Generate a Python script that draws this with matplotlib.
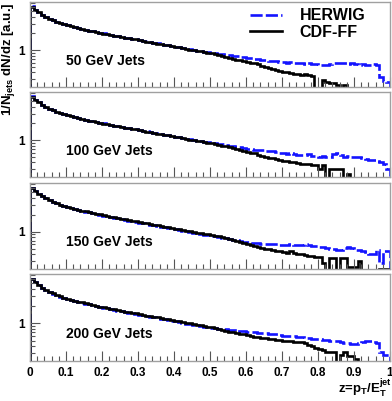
import numpy as np
import matplotlib
matplotlib.use("Agg")
import matplotlib.pyplot as plt
from matplotlib.ticker import FixedLocator, FixedFormatter, MultipleLocator, LogLocator, NullFormatter

plt.rcParams['font.family'] = ['Liberation Sans', 'DejaVu Sans']
plt.rcParams['font.weight'] = 'bold'
plt.rcParams['mathtext.fontset'] = 'custom'
plt.rcParams['mathtext.rm'] = 'Liberation Sans:bold'
plt.rcParams['mathtext.bf'] = 'Liberation Sans:bold'
plt.rcParams['mathtext.default'] = 'bf'

# jet energies shown in the four panels
jet_energies = [50, 100, 150, 200]
series_names = ["HERWIG", "CDF-FF"]

# z bins, 0.01 wide
z_edges = np.linspace(0.0, 1.0, 101)

herwig_50 = [6.1, 5.35, 4.75, 4.3, 3.95, 3.66, 3.42, 3.23, 3.05, 2.91,
             2.78, 2.68, 2.58, 2.49, 2.4, 2.33, 2.25, 2.18, 2.12, 2.05,
             2.0, 1.94, 1.88, 1.83, 1.78, 1.74, 1.69, 1.65, 1.6, 1.56,
             1.52, 1.48, 1.44, 1.4, 1.36, 1.33, 1.29, 1.26, 1.23, 1.2,
             1.16, 1.13, 1.1, 1.07, 1.04, 1.01, 0.98, 0.96, 0.94, 0.92,
             0.9, 0.88, 0.86, 0.85, 0.83, 0.81, 0.8, 0.78, 0.77, 0.75,
             0.74, 0.72, 0.71, 0.69, 0.68, 0.66, 0.65, 0.64, 0.63, 0.62,
             0.61, 0.6, 0.62, 0.6, 0.59, 0.58, 0.57, 0.58, 0.57, 0.56,
             0.55, 0.54, 0.55, 0.57, 0.59, 0.58, 0.6, 0.58, 0.57, 0.58,
             0.56, 0.55, 0.56, 0.55, 0.54, 0.56, 0.55, 0.33, 0.28, 0.27]
cdf_50 = [6.0, 5.3, 4.75, 4.3, 3.95, 3.65, 3.42, 3.22, 3.05, 2.9,
          2.78, 2.67, 2.57, 2.48, 2.4, 2.32, 2.25, 2.18, 2.11, 2.05,
          1.99, 1.93, 1.88, 1.83, 1.78, 1.73, 1.68, 1.64, 1.6, 1.56,
          1.51, 1.47, 1.43, 1.39, 1.35, 1.32, 1.28, 1.25, 1.22, 1.19,
          1.15, 1.12, 1.09, 1.06, 1.03, 1.0, 0.97, 0.95, 0.93, 0.9,
          0.88, 0.85, 0.82, 0.8, 0.77, 0.74, 0.71, 0.68, 0.66, 0.64,
          0.62, 0.6, 0.58, 0.56, 0.53, 0.5, 0.48, 0.46, 0.45, 0.43,
          0.41, 0.4, 0.39, 0.38, 0.37, 0.36, 0.37, 0.36, 0.35, 0,
          0, 0.29, 0.27, 0.26, 0.26, 0.24, 0, 0.24, 0, 0,
          0, 0, 0, 0, 0, 0, 0, 0, 0, 0]

herwig_100 = [6.1, 5.35, 4.75, 4.3, 3.95, 3.66, 3.42, 3.23, 3.05, 2.91,
              2.78, 2.68, 2.58, 2.49, 2.4, 2.33, 2.25, 2.18, 2.12, 2.05,
              2.0, 1.94, 1.88, 1.83, 1.78, 1.74, 1.69, 1.65, 1.6, 1.56,
              1.52, 1.48, 1.44, 1.4, 1.36, 1.33, 1.29, 1.26, 1.23, 1.2,
              1.16, 1.13, 1.1, 1.07, 1.04, 1.01, 0.98, 0.96, 0.94, 0.92,
              0.9, 0.88, 0.86, 0.84, 0.82, 0.8, 0.79, 0.77, 0.75, 0.73,
              0.71, 0.69, 0.68, 0.67, 0.66, 0.65, 0.64, 0.63, 0.61, 0.6,
              0.58, 0.57, 0.58, 0.56, 0.55, 0.55, 0.54, 0.56, 0.53, 0.52,
              0.51, 0.53, 0.5, 0.51, 0.56, 0.58, 0.55, 0.5, 0.52, 0.51,
              0.5, 0.51, 0.48, 0.47, 0.45, 0.44, 0.42, 0.4, 0.38, 0.3]
cdf_100 = [6.0, 5.3, 4.75, 4.3, 3.95, 3.65, 3.42, 3.22, 3.05, 2.9,
           2.78, 2.67, 2.57, 2.48, 2.4, 2.32, 2.25, 2.18, 2.11, 2.05,
           1.99, 1.93, 1.88, 1.83, 1.78, 1.73, 1.68, 1.64, 1.6, 1.56,
           1.51, 1.47, 1.43, 1.39, 1.35, 1.32, 1.28, 1.25, 1.22, 1.19,
           1.15, 1.12, 1.09, 1.06, 1.03, 1.0, 0.97, 0.95, 0.93, 0.9,
           0.89, 0.86, 0.83, 0.8, 0.78, 0.75, 0.72, 0.7, 0.67, 0.65,
           0.62, 0.6, 0.58, 0.55, 0.53, 0.51, 0.49, 0.48, 0.46, 0.44,
           0.43, 0.42, 0.41, 0.4, 0.39, 0.38, 0.37, 0.37, 0.36, 0.36,
           0.3, 0.36, 0, 0.31, 0.31, 0.3, 0.3, 0, 0.25, 0,
           0, 0, 0, 0, 0, 0, 0, 0, 0, 0]

herwig_150 = [5.9, 5.25, 4.7, 4.25, 3.9, 3.6, 3.38, 3.18, 3.0, 2.86,
              2.73, 2.62, 2.52, 2.43, 2.35, 2.27, 2.2, 2.13, 2.06, 2.0,
              1.93, 1.87, 1.82, 1.77, 1.72, 1.67, 1.62, 1.58, 1.54, 1.5,
              1.46, 1.42, 1.38, 1.34, 1.3, 1.27, 1.23, 1.2, 1.17, 1.14,
              1.11, 1.08, 1.05, 1.02, 0.99, 0.96, 0.94, 0.91, 0.89, 0.87,
              0.85, 0.83, 0.81, 0.79, 0.77, 0.75, 0.73, 0.71, 0.69, 0.67,
              0.66, 0.64, 0.63, 0.63, 0.62, 0.61, 0.6, 0.61, 0.6, 0.59,
              0.59, 0.58, 0.6, 0.59, 0.58, 0.59, 0.6, 0.58, 0.57, 0.56,
              0.54, 0.53, 0.51, 0.5, 0.49, 0.48, 0.47, 0.52, 0.53, 0.51,
              0.48, 0.47, 0.45, 0.44, 0.41, 0.4, 0.47, 0.28, 0.46, 0.46]
cdf_150 = [5.95, 5.28, 4.72, 4.28, 3.93, 3.63, 3.4, 3.2, 3.03, 2.88,
           2.76, 2.65, 2.55, 2.46, 2.38, 2.3, 2.23, 2.16, 2.09, 2.03,
           1.97, 1.91, 1.86, 1.81, 1.76, 1.71, 1.66, 1.62, 1.58, 1.54,
           1.5, 1.46, 1.42, 1.38, 1.34, 1.31, 1.27, 1.24, 1.21, 1.18,
           1.14, 1.11, 1.08, 1.05, 1.02, 0.99, 0.96, 0.94, 0.92, 0.9,
           0.89, 0.86, 0.83, 0.8, 0.77, 0.74, 0.71, 0.68, 0.66, 0.63,
           0.6, 0.58, 0.56, 0.54, 0.52, 0.5, 0.49, 0.47, 0.46, 0.45,
           0.44, 0.43, 0.45, 0.42, 0.41, 0.4, 0.39, 0.38, 0.37, 0.36,
           0.36, 0.28, 0, 0.34, 0.34, 0, 0.34, 0.34, 0.24, 0.24,
           0.24, 0.31, 0, 0, 0, 0, 0, 0.22, 0.22, 0.22]

herwig_200 = [5.95, 5.2, 4.65, 4.2, 3.85, 3.55, 3.32, 3.12, 2.95, 2.8,
              2.68, 2.57, 2.47, 2.38, 2.3, 2.22, 2.15, 2.08, 2.01, 1.95,
              1.89, 1.83, 1.78, 1.72, 1.67, 1.62, 1.58, 1.54, 1.5, 1.46,
              1.42, 1.38, 1.34, 1.3, 1.27, 1.24, 1.2, 1.17, 1.14, 1.11,
              1.08, 1.05, 1.02, 0.99, 0.97, 0.94, 0.92, 0.9, 0.88, 0.86,
              0.84, 0.82, 0.81, 0.8, 0.79, 0.78, 0.77, 0.75, 0.74, 0.73,
              0.72, 0.71, 0.7, 0.69, 0.68, 0.67, 0.66, 0.65, 0.64, 0.62,
              0.61, 0.6, 0.59, 0.59, 0.58, 0.57, 0.56, 0.55, 0.54, 0.53,
              0.53, 0.52, 0.51, 0.5, 0.5, 0.49, 0.47, 0.46, 0.45, 0.44,
              0.44, 0.46, 0.48, 0.5, 0.49, 0.47, 0.46, 0.31, 0.28, 0.28]
cdf_200 = [5.9, 5.2, 4.65, 4.2, 3.85, 3.56, 3.33, 3.13, 2.96, 2.82,
           2.7, 2.59, 2.49, 2.4, 2.32, 2.24, 2.17, 2.1, 2.03, 1.97,
           1.91, 1.85, 1.8, 1.75, 1.7, 1.65, 1.61, 1.57, 1.53, 1.49,
           1.45, 1.41, 1.37, 1.34, 1.3, 1.27, 1.24, 1.21, 1.18, 1.15,
           1.12, 1.09, 1.06, 1.03, 1.0, 0.97, 0.95, 0.92, 0.9, 0.87,
           0.85, 0.82, 0.8, 0.77, 0.75, 0.72, 0.7, 0.68, 0.66, 0.64,
           0.62, 0.6, 0.58, 0.57, 0.56, 0.55, 0.54, 0.53, 0.52, 0.51,
           0.5, 0.49, 0.49, 0.48, 0.47, 0.47, 0.45, 0.42, 0.4, 0.37,
           0.35, 0.34, 0.32, 0.31, 0.31, 0, 0.28, 0.31, 0.27, 0.27,
           0.24, 0, 0, 0, 0, 0, 0, 0, 0, 0]

herwig_sets = [herwig_50, herwig_100, herwig_150, herwig_200]
cdf_sets = [cdf_50, cdf_100, cdf_150, cdf_200]

x_ticks = [0, 0.1, 0.2, 0.3, 0.4, 0.5, 0.6, 0.7, 0.8, 0.9, 1]
x_ticklabels = ["0", "0.1", "0.2", "0.3", "0.4", "0.5", "0.6", "0.7", "0.8", "0.9", "1"]

W, H = 392, 401
fig = plt.figure(figsize=(W / 100, H / 100), dpi=100)

# panel boxes in pixels (top, bottom)
panel_px = [(2, 87), (92, 177), (183, 269), (274, 361)]
left_px, right_px = 30, 390

frame_col = '#a0a0a0'
tick_col = '#555555'

axes = []
for i, (top, bot) in enumerate(panel_px):
    ax = fig.add_axes([left_px / W, 1 - bot / H, (right_px - left_px) / W, (bot - top) / H])
    ax.stairs(herwig_sets[i], z_edges, color='#1414ff', lw=1.9,
              linestyle=(0, (4.6, 1.2)), label=series_names[0])
    ax.stairs(cdf_sets[i], z_edges, color='black', lw=1.9, label=series_names[1])

    ax.set_yscale('log')
    ax.set_ylim(0.22, 7.3)
    ax.set_xlim(0, 1)

    ax.yaxis.set_major_locator(FixedLocator([1]))
    ax.yaxis.set_major_formatter(FixedFormatter(["1"]))
    ax.yaxis.set_minor_locator(LogLocator(base=10, subs=np.arange(2, 10)))
    ax.yaxis.set_minor_formatter(NullFormatter())

    ax.xaxis.set_major_locator(FixedLocator(x_ticks))
    ax.xaxis.set_minor_locator(MultipleLocator(0.02))
    if i == 3:
        ax.set_xticklabels(x_ticklabels)
    else:
        ax.set_xticklabels([])

    ax.tick_params(which='both', direction='in', top=False, right=False,
                   color=tick_col, width=0.8, labelsize=8.5, pad=4)
    ax.tick_params(which='major', length=7)
    ax.tick_params(which='minor', length=3.5)
    ax.tick_params(axis='y', which='major', pad=4)
    for sp in ax.spines.values():
        sp.set_color(frame_col)
        sp.set_linewidth(1.0)

    ax.text(0.10, 0.31, f"{jet_energies[i]} GeV Jets", transform=ax.transAxes,
            fontsize=10, fontweight='bold', va='center', ha='left')
    axes.append(ax)

axes[0].legend(loc='upper left', bbox_to_anchor=((250 - left_px) / 360, 0.925), frameon=False,
               handlelength=2.0, handletextpad=1.1, labelspacing=0.1,
               borderpad=0, borderaxespad=0, prop={'weight': 'bold', 'size': 11.5})

fig.text(9 / W, 1 - 3 / H, r"1/N$_{jets}$ dN/dz [a.u.]", rotation=90,
         ha='center', va='top', fontsize=9.5, fontweight='bold')
fig.text(1.0, 1 - 393 / H, r"z=p$_T$/E$_T^{jet}$", ha='right', va='baseline',
         fontsize=9.5, fontweight='bold')

fig.savefig("out.png", dpi=100)
